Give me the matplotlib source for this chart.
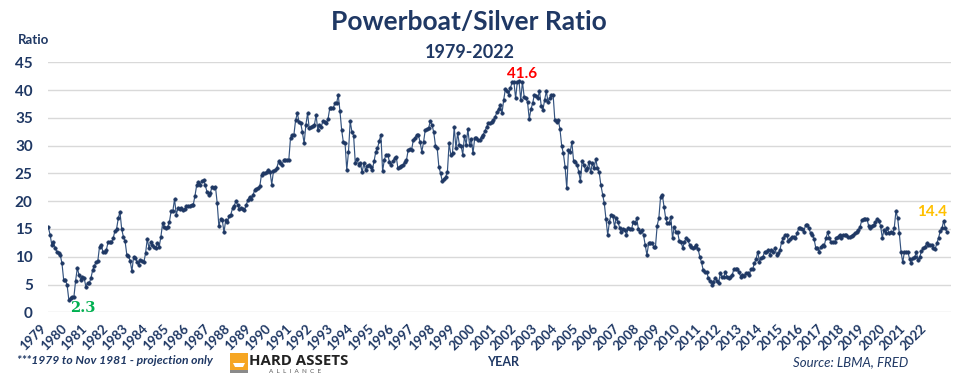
import numpy as np
import matplotlib
matplotlib.use('Agg')
import matplotlib.pyplot as plt
from matplotlib.patches import Rectangle, Polygon

# Monthly Powerboat/Silver ratio, Jan 1979 - Dec 2022
ratio_1979_1988 = [
    15.3, 14.0, 12.2, 12.6, 11.6, 10.9, 10.6, 10.3, 8.8, 5.8, 5.8, 4.9,
    2.3, 2.6, 2.8, 2.8, 5.7, 8.0, 6.7, 5.9, 6.3, 6.2, 4.6, 5.3,
    5.2, 6.2, 7.6, 8.4, 9.0, 9.2, 11.8, 12.1, 10.9, 10.8, 11.2, 12.6,
    12.6, 12.6, 13.3, 14.6, 15.0, 16.9, 18.1, 15.0, 13.6, 12.8, 10.4, 10.2,
    9.2, 7.4, 10.0, 9.8, 9.1, 8.5, 9.4, 9.2, 9.0, 10.6, 13.2, 11.6,
    12.7, 12.2, 11.8, 11.6, 12.4, 11.8, 13.6, 16.0, 15.4, 15.1, 15.4, 16.3,
    18.2, 18.2, 20.4, 17.6, 18.7, 18.6, 18.7, 18.4, 18.6, 19.2, 19.2, 19.2,
    19.4, 19.4, 21.0, 22.9, 23.4, 23.0, 23.6, 23.8, 22.9, 21.7, 21.2, 21.5,
    22.6, 22.4, 22.6, 19.7, 15.5, 16.8, 16.6, 14.4, 16.6, 16.2, 17.4, 17.6,
    18.7, 19.2, 20.0, 19.3, 18.6, 18.7, 18.6, 18.4, 19.3, 20.2, 20.8, 20.4,
]
ratio_1989_1998 = [
    21.1, 22.0, 22.2, 22.4, 22.7, 24.8, 25.0, 25.0, 25.2, 25.6, 25.3, 23.0,
    25.4, 25.6, 26.0, 27.2, 26.8, 26.5, 27.4, 27.4, 27.4, 27.4, 31.4, 32.0,
    32.0, 34.6, 35.8, 34.3, 34.0, 32.4, 30.4, 33.7, 35.8, 33.1, 33.4, 33.6,
    33.7, 35.5, 32.8, 33.7, 33.4, 34.4, 34.3, 34.0, 34.8, 36.7, 36.7, 36.7,
    37.6, 37.6, 39.1, 36.2, 32.8, 30.6, 30.4, 25.6, 28.9, 34.4, 32.5, 31.8,
    26.8, 27.6, 26.5, 26.8, 25.2, 26.8, 25.6, 26.3, 26.5, 26.2, 25.7, 27.2,
    28.9, 29.5, 30.8, 32.0, 25.4, 27.4, 28.4, 28.4, 27.1, 26.6, 27.2, 27.7,
    28.0, 25.9, 26.2, 26.4, 26.6, 27.0, 27.4, 29.2, 29.4, 29.2, 31.0, 31.4,
    32.0, 31.9, 30.6, 28.9, 30.6, 32.8, 33.0, 33.2, 34.4, 33.7, 32.4, 30.0,
    29.6, 26.2, 25.0, 23.6, 24.0, 24.4, 25.3, 30.4, 28.4, 28.7, 33.4, 29.5,
]
ratio_1999_2008 = [
    32.3, 30.2, 30.0, 28.4, 31.7, 30.2, 33.0, 30.1, 31.2, 28.6, 31.3, 31.3,
    31.0, 31.0, 31.6, 32.0, 32.6, 33.4, 34.0, 34.0, 34.3, 34.6, 35.2, 36.0,
    36.6, 37.3, 35.8, 38.2, 40.2, 39.8, 39.2, 40.4, 41.5, 41.5, 38.5, 41.5,
    41.6, 38.2, 41.5, 38.8, 38.6, 37.8, 34.8, 36.6, 37.6, 39.2, 39.0, 38.6,
    39.8, 37.2, 36.4, 38.2, 39.8, 37.9, 38.6, 39.2, 39.1, 34.6, 34.3, 34.6,
    33.0, 30.0, 28.6, 26.2, 22.3, 29.2, 28.9, 30.6, 27.2, 27.0, 26.6, 25.3,
    23.6, 27.2, 26.6, 25.6, 25.9, 27.0, 25.2, 26.8, 25.9, 27.6, 25.9, 25.2,
    22.9, 21.2, 19.6, 16.8, 13.9, 16.3, 17.6, 17.4, 15.4, 17.0, 16.3, 15.2,
    14.4, 15.0, 14.8, 14.0, 15.1, 15.0, 15.0, 16.3, 16.0, 16.9, 15.0, 14.5,
    14.8, 13.9, 12.1, 10.3, 12.4, 12.4, 12.4, 11.8, 11.8, 15.6, 17.0, 20.8,
]
ratio_2009_2022 = [
    21.2, 19.0, 16.9, 16.0, 16.0, 17.2, 13.3, 15.4, 14.5, 14.4, 12.8, 12.7,
    11.6, 12.7, 13.3, 13.0, 12.2, 11.8, 11.6, 11.8, 12.2, 11.4, 10.0, 9.0,
    7.6, 7.2, 7.3, 6.2, 5.6, 5.0, 5.5, 6.2, 5.6, 5.2, 7.0, 6.4,
    6.4, 7.2, 6.4, 6.2, 6.4, 6.7, 7.8, 7.8, 7.8, 7.2, 6.4, 6.7,
    6.6, 7.0, 7.0, 6.8, 7.8, 7.8, 8.8, 9.6, 10.9, 9.1, 9.8, 10.0,
    10.9, 10.8, 11.2, 10.3, 11.2, 10.9, 11.6, 10.4, 10.6, 11.2, 12.7, 13.4,
    13.9, 14.0, 12.8, 13.2, 13.6, 13.6, 13.3, 14.2, 15.1, 15.2, 15.0, 14.5,
    15.7, 15.8, 15.1, 14.2, 13.9, 13.2, 11.6, 11.6, 10.9, 11.8, 12.1, 12.0,
    13.4, 14.4, 13.3, 12.7, 12.6, 12.6, 13.4, 13.6, 14.0, 13.4, 13.9, 14.0,
    13.9, 13.6, 13.6, 13.8, 14.0, 14.2, 14.5, 14.8, 15.4, 16.6, 16.8, 16.8,
    16.8, 15.6, 15.2, 15.6, 15.8, 16.3, 16.8, 16.4, 15.6, 13.4, 14.8, 14.2,
    15.1, 14.2, 14.5, 14.2, 15.1, 18.2, 17.0, 14.2, 10.9, 9.0, 10.9, 10.9,
    10.9, 9.6, 8.8, 9.7, 10.0, 10.8, 9.4, 10.0, 11.0, 11.5, 11.8, 12.4,
    12.2, 12.1, 12.2, 11.6, 11.4, 12.4, 13.4, 14.6, 15.1, 16.5, 15.1, 14.4,
]
years = list(range(1979, 2023))
y_ticks = [0, 5, 10, 15, 20, 25, 30, 35, 40, 45]

values = np.array(ratio_1979_1988 + ratio_1989_1998 + ratio_1999_2008 + ratio_2009_2022)
x = np.arange(len(values))

NAVY = '#1F3864'
LINE = '#34537F'
plt.rcParams['font.family'] = ['Lato', 'DejaVu Sans']

W, H = 970, 375
fig = plt.figure(figsize=(W / 100, H / 100), dpi=100)
ax = fig.add_axes([48 / W, 1 - 312.3 / H, 903 / W, 250 / H])

ax.plot(x, values, color=LINE, lw=0.85, marker='o', ms=2.5,
        mec=NAVY, mfc=NAVY, mew=0.4, zorder=3)
ax.set_ylim(0, 45)
ax.set_yticks(y_ticks)
ax.set_xlim(-0.2, 529.3)
ax.set_xticks(np.arange(len(years)) * 12)
ax.set_xticklabels([str(y) for y in years], rotation=45, ha='right', va='top')
ax.grid(axis='y', color='#D9D9D9', lw=1)
ax.grid(axis='x', visible=False)
ax.set_axisbelow(True)
for s in ax.spines.values():
    s.set_visible(False)
ax.tick_params(axis='y', length=0, pad=11, labelsize=11, labelcolor=NAVY)
ax.tick_params(axis='x', length=0, pad=7, labelsize=9.5, labelcolor=NAVY)
for lab in ax.get_yticklabels() + ax.get_xticklabels():
    lab.set_fontweight('bold')

# annotations
imin = int(np.argmin(values))
imax = int(np.argmax(values))
ilast = len(values) - 1
ax.annotate(f"{values[imin]:.1f}", xy=(x[imin], values[imin]), xytext=(10, -6),
            textcoords='offset points', ha='center', va='center', color='#00B050',
            fontsize=10.5, fontweight='bold', family=['DejaVu Serif'])
ax.annotate(f"{values[imax]:.1f}", xy=(x[imax], values[imax]), xytext=(2, 5.5),
            textcoords='offset points', ha='center', va='center', color='#FF0000',
            fontsize=11, fontweight='bold')
ax.annotate(f"{values[ilast]:.1f}", xy=(x[ilast], values[ilast]), xytext=(-11, 14.5),
            textcoords='offset points', ha='center', va='center', color='#FFC000',
            fontsize=11, fontweight='bold')

# titles
fig.text(469 / W, 1 - 22 / H, "Powerboat/Silver Ratio", ha='center', va='center',
         fontsize=19, fontweight='bold', color=NAVY)
fig.text(470 / W, 1 - 53 / H, "1979-2022", ha='center', va='center',
         fontsize=13, fontweight='bold', color=NAVY)
fig.text(34 / W, 1 - 40 / H, "Ratio", ha='center', va='center',
         fontsize=9.5, fontweight='bold', color=NAVY)

# footer
fig.text(17 / W, 1 - 361 / H, "***1979 to Nov 1981 - projection only", ha='left', va='center',
         fontsize=8.7, fontweight='bold', fontstyle='italic', color=NAVY)
fig.text(503 / W, 1 - 362 / H, "YEAR", ha='center', va='center',
         fontsize=9, fontweight='bold', color=NAVY)
fig.text(851 / W, 1 - 362 / H, "Source: LBMA, FRED", ha='center', va='center',
         fontsize=9.5, fontstyle='italic', color=NAVY)

# logo
fig.patches.append(Rectangle((230 / W, 1 - 370 / H), 18 / W, 17 / H,
                             transform=fig.transFigure, facecolor='#F6A623', edgecolor='none'))
fig.patches.append(Polygon([(233 / W, 1 - 363 / H), (245 / W, 1 - 363 / H),
                            (243 / W, 1 - 367 / H), (235 / W, 1 - 367 / H)], closed=True,
                           transform=fig.transFigure, facecolor='white', edgecolor='none'))
fig.patches.append(Rectangle((230 / W, 1 - 373 / H), 18 / W, 3 / H,
                             transform=fig.transFigure, facecolor='#8A8A8A', edgecolor='none'))
fig.text(249 / W, 1 - 361 / H, "HARD ASSETS", ha='left', va='center',
         fontsize=10.8, fontweight='bold', color='#222222', family=['Open Sans', 'DejaVu Sans'])
fig.text(295 / W, 1 - 371.5 / H, "A  L  L  I  A  N  C  E", ha='center', va='center',
         fontsize=4.5, color='#555555')

fig.savefig('out.png', dpi=100)
